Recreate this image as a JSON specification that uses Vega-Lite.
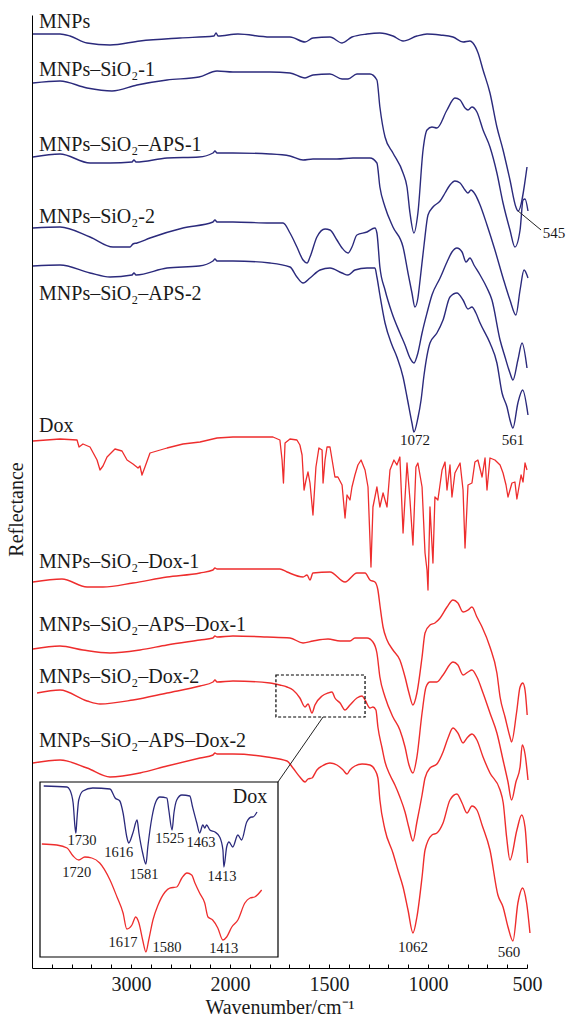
{
"$schema": "https://vega.github.io/schema/vega-lite/v6.json",
"width": 495, "height": 953,
"autosize": "none",
"padding": {"left": 32, "top": 15, "right": 39, "bottom": 51},
"background": "white",
"config": {"view": {"stroke": null}, "font": "Liberation Serif", "text": {"font": "Liberation Serif", "color": "#1a1a1a"}},
"datasets": {
"curves": [
{"s":"MNPs","w":3990,"r":934},{"s":"MNPs","w":3717,"r":934},{"s":"MNPs","w":3616,"r":932},{"s":"MNPs","w":3444,"r":925},{"s":"MNPs","w":3212,"r":923},{"s":"MNPs","w":2909,"r":927},{"s":"MNPs","w":2505,"r":930},{"s":"MNPs","w":2162,"r":932},{"s":"MNPs","w":2141,"r":935},{"s":"MNPs","w":2121,"r":932},{"s":"MNPs","w":1960,"r":934},{"s":"MNPs","w":1798,"r":931},{"s":"MNPs","w":1697,"r":931},{"s":"MNPs","w":1621,"r":926},{"s":"MNPs","w":1581,"r":930},{"s":"MNPs","w":1495,"r":931},{"s":"MNPs","w":1434,"r":925},{"s":"MNPs","w":1384,"r":931},{"s":"MNPs","w":1308,"r":934},{"s":"MNPs","w":1243,"r":935},{"s":"MNPs","w":1177,"r":932},{"s":"MNPs","w":1126,"r":927},{"s":"MNPs","w":1056,"r":932},{"s":"MNPs","w":1005,"r":934},{"s":"MNPs","w":939,"r":933},{"s":"MNPs","w":874,"r":931},{"s":"MNPs","w":823,"r":926},{"s":"MNPs","w":788,"r":927},{"s":"MNPs","w":773,"r":925},{"s":"MNPs","w":747,"r":915},{"s":"MNPs","w":722,"r":898},{"s":"MNPs","w":687,"r":875},{"s":"MNPs","w":652,"r":841},{"s":"MNPs","w":621,"r":818},{"s":"MNPs","w":586,"r":788},{"s":"MNPs","w":556,"r":761},{"s":"MNPs","w":545,"r":757},{"s":"MNPs","w":500,"r":801},
{"s":"S1","w":3990,"r":885},{"s":"S1","w":3717,"r":887},{"s":"S1","w":3444,"r":880},{"s":"S1","w":3192,"r":877},{"s":"S1","w":2939,"r":883},{"s":"S1","w":2636,"r":888},{"s":"S1","w":2313,"r":891},{"s":"S1","w":2131,"r":897},{"s":"S1","w":1985,"r":896},{"s":"S1","w":1798,"r":896},{"s":"S1","w":1697,"r":895},{"s":"S1","w":1621,"r":890},{"s":"S1","w":1581,"r":893},{"s":"S1","w":1495,"r":894},{"s":"S1","w":1434,"r":889},{"s":"S1","w":1404,"r":889},{"s":"S1","w":1359,"r":894},{"s":"S1","w":1293,"r":894},{"s":"S1","w":1258,"r":888},{"s":"S1","w":1243,"r":861},{"s":"S1","w":1217,"r":831},{"s":"S1","w":1177,"r":815},{"s":"S1","w":1126,"r":795},{"s":"S1","w":1106,"r":781},{"s":"S1","w":1091,"r":755},{"s":"S1","w":1071,"r":735},{"s":"S1","w":1051,"r":755},{"s":"S1","w":1025,"r":818},{"s":"S1","w":1005,"r":838},{"s":"S1","w":980,"r":841},{"s":"S1","w":955,"r":840},{"s":"S1","w":904,"r":858},{"s":"S1","w":864,"r":870},{"s":"S1","w":838,"r":868},{"s":"S1","w":813,"r":860},{"s":"S1","w":798,"r":858},{"s":"S1","w":778,"r":861},{"s":"S1","w":753,"r":856},{"s":"S1","w":722,"r":838},{"s":"S1","w":687,"r":821},{"s":"S1","w":652,"r":795},{"s":"S1","w":621,"r":765},{"s":"S1","w":586,"r":738},{"s":"S1","w":561,"r":721},{"s":"S1","w":535,"r":738},{"s":"S1","w":520,"r":768},{"s":"S1","w":510,"r":769},{"s":"S1","w":495,"r":757},
{"s":"SA1","w":3990,"r":811},{"s":"SA1","w":3717,"r":814},{"s":"SA1","w":3414,"r":805},{"s":"SA1","w":3212,"r":805},{"s":"SA1","w":2990,"r":806},{"s":"SA1","w":2970,"r":808},{"s":"SA1","w":2949,"r":806},{"s":"SA1","w":2636,"r":810},{"s":"SA1","w":2313,"r":811},{"s":"SA1","w":2172,"r":815},{"s":"SA1","w":2152,"r":817},{"s":"SA1","w":2131,"r":815},{"s":"SA1","w":1985,"r":815},{"s":"SA1","w":1798,"r":814},{"s":"SA1","w":1697,"r":812},{"s":"SA1","w":1631,"r":808},{"s":"SA1","w":1581,"r":809},{"s":"SA1","w":1460,"r":809},{"s":"SA1","w":1379,"r":810},{"s":"SA1","w":1293,"r":810},{"s":"SA1","w":1258,"r":805},{"s":"SA1","w":1243,"r":781},{"s":"SA1","w":1217,"r":761},{"s":"SA1","w":1177,"r":741},{"s":"SA1","w":1126,"r":721},{"s":"SA1","w":1101,"r":695},{"s":"SA1","w":1081,"r":675},{"s":"SA1","w":1066,"r":661},{"s":"SA1","w":1051,"r":670},{"s":"SA1","w":1040,"r":688},{"s":"SA1","w":1020,"r":723},{"s":"SA1","w":1000,"r":753},{"s":"SA1","w":975,"r":761},{"s":"SA1","w":939,"r":767},{"s":"SA1","w":914,"r":775},{"s":"SA1","w":889,"r":783},{"s":"SA1","w":864,"r":787},{"s":"SA1","w":838,"r":785},{"s":"SA1","w":813,"r":778},{"s":"SA1","w":798,"r":775},{"s":"SA1","w":783,"r":778},{"s":"SA1","w":763,"r":774},{"s":"SA1","w":737,"r":763},{"s":"SA1","w":702,"r":743},{"s":"SA1","w":662,"r":718},{"s":"SA1","w":621,"r":690},{"s":"SA1","w":586,"r":668},{"s":"SA1","w":556,"r":653},{"s":"SA1","w":535,"r":678},{"s":"SA1","w":515,"r":698},{"s":"SA1","w":495,"r":690},
{"s":"S2","w":3990,"r":740},{"s":"S2","w":3717,"r":741},{"s":"S2","w":3414,"r":731},{"s":"S2","w":3182,"r":721},{"s":"S2","w":3010,"r":721},{"s":"S2","w":2980,"r":724},{"s":"S2","w":2939,"r":725},{"s":"S2","w":2808,"r":730},{"s":"S2","w":2475,"r":740},{"s":"S2","w":2172,"r":746},{"s":"S2","w":2152,"r":748},{"s":"S2","w":2131,"r":746},{"s":"S2","w":1985,"r":746},{"s":"S2","w":1798,"r":745},{"s":"S2","w":1732,"r":745},{"s":"S2","w":1697,"r":735},{"s":"S2","w":1662,"r":721},{"s":"S2","w":1631,"r":708},{"s":"S2","w":1611,"r":705},{"s":"S2","w":1596,"r":711},{"s":"S2","w":1561,"r":731},{"s":"S2","w":1520,"r":739},{"s":"S2","w":1495,"r":738},{"s":"S2","w":1460,"r":728},{"s":"S2","w":1434,"r":720},{"s":"S2","w":1404,"r":715},{"s":"S2","w":1384,"r":721},{"s":"S2","w":1359,"r":733},{"s":"S2","w":1308,"r":736},{"s":"S2","w":1268,"r":740},{"s":"S2","w":1258,"r":735},{"s":"S2","w":1243,"r":701},{"s":"S2","w":1217,"r":678},{"s":"S2","w":1182,"r":655},{"s":"S2","w":1142,"r":635},{"s":"S2","w":1116,"r":623},{"s":"S2","w":1091,"r":610},{"s":"S2","w":1071,"r":605},{"s":"S2","w":1051,"r":615},{"s":"S2","w":1030,"r":635},{"s":"S2","w":1005,"r":655},{"s":"S2","w":980,"r":673},{"s":"S2","w":939,"r":690},{"s":"S2","w":904,"r":706},{"s":"S2","w":879,"r":716},{"s":"S2","w":854,"r":720},{"s":"S2","w":828,"r":716},{"s":"S2","w":808,"r":706},{"s":"S2","w":788,"r":710},{"s":"S2","w":768,"r":703},{"s":"S2","w":737,"r":693},{"s":"S2","w":702,"r":680},{"s":"S2","w":677,"r":668},{"s":"S2","w":636,"r":628},{"s":"S2","w":611,"r":611},{"s":"S2","w":586,"r":595},{"s":"S2","w":571,"r":588},{"s":"S2","w":546,"r":608},{"s":"S2","w":525,"r":625},{"s":"S2","w":500,"r":600},
{"s":"SA2","w":3990,"r":702},{"s":"SA2","w":3717,"r":703},{"s":"SA2","w":3414,"r":695},{"s":"SA2","w":3212,"r":691},{"s":"SA2","w":2990,"r":693},{"s":"SA2","w":2970,"r":695},{"s":"SA2","w":2949,"r":693},{"s":"SA2","w":2636,"r":700},{"s":"SA2","w":2313,"r":702},{"s":"SA2","w":2172,"r":707},{"s":"SA2","w":2152,"r":709},{"s":"SA2","w":2131,"r":707},{"s":"SA2","w":1985,"r":707},{"s":"SA2","w":1798,"r":705},{"s":"SA2","w":1697,"r":701},{"s":"SA2","w":1662,"r":691},{"s":"SA2","w":1631,"r":685},{"s":"SA2","w":1596,"r":690},{"s":"SA2","w":1545,"r":698},{"s":"SA2","w":1495,"r":700},{"s":"SA2","w":1434,"r":695},{"s":"SA2","w":1404,"r":693},{"s":"SA2","w":1369,"r":698},{"s":"SA2","w":1308,"r":700},{"s":"SA2","w":1268,"r":700},{"s":"SA2","w":1258,"r":691},{"s":"SA2","w":1243,"r":673},{"s":"SA2","w":1217,"r":645},{"s":"SA2","w":1182,"r":623},{"s":"SA2","w":1157,"r":611},{"s":"SA2","w":1126,"r":591},{"s":"SA2","w":1106,"r":571},{"s":"SA2","w":1081,"r":545},{"s":"SA2","w":1071,"r":536},{"s":"SA2","w":1051,"r":550},{"s":"SA2","w":1035,"r":568},{"s":"SA2","w":1020,"r":593},{"s":"SA2","w":990,"r":625},{"s":"SA2","w":955,"r":635},{"s":"SA2","w":924,"r":648},{"s":"SA2","w":889,"r":671},{"s":"SA2","w":854,"r":675},{"s":"SA2","w":823,"r":668},{"s":"SA2","w":798,"r":659},{"s":"SA2","w":778,"r":661},{"s":"SA2","w":758,"r":655},{"s":"SA2","w":737,"r":645},{"s":"SA2","w":687,"r":625},{"s":"SA2","w":652,"r":605},{"s":"SA2","w":626,"r":575},{"s":"SA2","w":601,"r":561},{"s":"SA2","w":586,"r":548},{"s":"SA2","w":571,"r":540},{"s":"SA2","w":546,"r":565},{"s":"SA2","w":522,"r":578},{"s":"SA2","w":495,"r":553},
{"s":"SD1","w":3990,"r":386},{"s":"SD1","w":3697,"r":389},{"s":"SD1","w":3444,"r":381},{"s":"SD1","w":3283,"r":381},{"s":"SD1","w":2980,"r":385},{"s":"SD1","w":2636,"r":391},{"s":"SD1","w":2303,"r":395},{"s":"SD1","w":2172,"r":398},{"s":"SD1","w":2152,"r":400},{"s":"SD1","w":2131,"r":399},{"s":"SD1","w":1985,"r":399},{"s":"SD1","w":1748,"r":399},{"s":"SD1","w":1712,"r":396},{"s":"SD1","w":1631,"r":391},{"s":"SD1","w":1611,"r":393},{"s":"SD1","w":1596,"r":388},{"s":"SD1","w":1581,"r":395},{"s":"SD1","w":1495,"r":396},{"s":"SD1","w":1419,"r":386},{"s":"SD1","w":1359,"r":395},{"s":"SD1","w":1318,"r":395},{"s":"SD1","w":1293,"r":388},{"s":"SD1","w":1268,"r":386},{"s":"SD1","w":1253,"r":378},{"s":"SD1","w":1243,"r":363},{"s":"SD1","w":1227,"r":341},{"s":"SD1","w":1207,"r":328},{"s":"SD1","w":1177,"r":318},{"s":"SD1","w":1142,"r":308},{"s":"SD1","w":1116,"r":291},{"s":"SD1","w":1096,"r":275},{"s":"SD1","w":1076,"r":263},{"s":"SD1","w":1056,"r":275},{"s":"SD1","w":1030,"r":311},{"s":"SD1","w":1015,"r":335},{"s":"SD1","w":990,"r":343},{"s":"SD1","w":965,"r":345},{"s":"SD1","w":939,"r":350},{"s":"SD1","w":904,"r":361},{"s":"SD1","w":874,"r":368},{"s":"SD1","w":849,"r":365},{"s":"SD1","w":823,"r":356},{"s":"SD1","w":798,"r":358},{"s":"SD1","w":778,"r":361},{"s":"SD1","w":753,"r":351},{"s":"SD1","w":727,"r":341},{"s":"SD1","w":687,"r":321},{"s":"SD1","w":652,"r":295},{"s":"SD1","w":636,"r":271},{"s":"SD1","w":611,"r":251},{"s":"SD1","w":586,"r":231},{"s":"SD1","w":578,"r":226},{"s":"SD1","w":553,"r":255},{"s":"SD1","w":535,"r":281},{"s":"SD1","w":521,"r":285},{"s":"SD1","w":510,"r":278},{"s":"SD1","w":499,"r":253},
{"s":"SAD1","w":3990,"r":319},{"s":"SAD1","w":3717,"r":322},{"s":"SAD1","w":3485,"r":318},{"s":"SAD1","w":3212,"r":315},{"s":"SAD1","w":2909,"r":318},{"s":"SAD1","w":2636,"r":323},{"s":"SAD1","w":2303,"r":328},{"s":"SAD1","w":2172,"r":330},{"s":"SAD1","w":2152,"r":332},{"s":"SAD1","w":2131,"r":331},{"s":"SAD1","w":1985,"r":332},{"s":"SAD1","w":1813,"r":331},{"s":"SAD1","w":1697,"r":330},{"s":"SAD1","w":1631,"r":325},{"s":"SAD1","w":1581,"r":327},{"s":"SAD1","w":1505,"r":329},{"s":"SAD1","w":1444,"r":327},{"s":"SAD1","w":1394,"r":327},{"s":"SAD1","w":1369,"r":330},{"s":"SAD1","w":1308,"r":330},{"s":"SAD1","w":1278,"r":326},{"s":"SAD1","w":1258,"r":315},{"s":"SAD1","w":1243,"r":291},{"s":"SAD1","w":1217,"r":271},{"s":"SAD1","w":1177,"r":251},{"s":"SAD1","w":1142,"r":238},{"s":"SAD1","w":1116,"r":221},{"s":"SAD1","w":1096,"r":203},{"s":"SAD1","w":1076,"r":195},{"s":"SAD1","w":1056,"r":211},{"s":"SAD1","w":1030,"r":255},{"s":"SAD1","w":1010,"r":281},{"s":"SAD1","w":990,"r":286},{"s":"SAD1","w":955,"r":286},{"s":"SAD1","w":924,"r":293},{"s":"SAD1","w":874,"r":306},{"s":"SAD1","w":849,"r":303},{"s":"SAD1","w":823,"r":293},{"s":"SAD1","w":798,"r":296},{"s":"SAD1","w":778,"r":298},{"s":"SAD1","w":753,"r":291},{"s":"SAD1","w":722,"r":275},{"s":"SAD1","w":687,"r":255},{"s":"SAD1","w":652,"r":235},{"s":"SAD1","w":621,"r":208},{"s":"SAD1","w":596,"r":186},{"s":"SAD1","w":578,"r":168},{"s":"SAD1","w":556,"r":186},{"s":"SAD1","w":535,"r":201},{"s":"SAD1","w":524,"r":223},{"s":"SAD1","w":510,"r":214},{"s":"SAD1","w":495,"r":188},
{"s":"SD2","w":3949,"r":275},{"s":"SD2","w":3717,"r":278},{"s":"SD2","w":3444,"r":267},{"s":"SD2","w":3313,"r":264},{"s":"SD2","w":2980,"r":268},{"s":"SD2","w":2636,"r":275},{"s":"SD2","w":2303,"r":282},{"s":"SD2","w":2172,"r":286},{"s":"SD2","w":2152,"r":288},{"s":"SD2","w":2131,"r":286},{"s":"SD2","w":1985,"r":287},{"s":"SD2","w":1798,"r":285},{"s":"SD2","w":1748,"r":283},{"s":"SD2","w":1712,"r":281},{"s":"SD2","w":1682,"r":278},{"s":"SD2","w":1647,"r":270},{"s":"SD2","w":1621,"r":261},{"s":"SD2","w":1606,"r":264},{"s":"SD2","w":1586,"r":255},{"s":"SD2","w":1571,"r":263},{"s":"SD2","w":1535,"r":272},{"s":"SD2","w":1505,"r":275},{"s":"SD2","w":1485,"r":276},{"s":"SD2","w":1470,"r":270},{"s":"SD2","w":1444,"r":265},{"s":"SD2","w":1419,"r":258},{"s":"SD2","w":1394,"r":263},{"s":"SD2","w":1359,"r":270},{"s":"SD2","w":1333,"r":272},{"s":"SD2","w":1318,"r":268},{"s":"SD2","w":1293,"r":260},{"s":"SD2","w":1278,"r":261},{"s":"SD2","w":1263,"r":258},{"s":"SD2","w":1253,"r":241},{"s":"SD2","w":1232,"r":220},{"s":"SD2","w":1217,"r":206},{"s":"SD2","w":1192,"r":193},{"s":"SD2","w":1167,"r":183},{"s":"SD2","w":1142,"r":171},{"s":"SD2","w":1116,"r":156},{"s":"SD2","w":1096,"r":140},{"s":"SD2","w":1076,"r":127},{"s":"SD2","w":1056,"r":146},{"s":"SD2","w":1030,"r":173},{"s":"SD2","w":1015,"r":190},{"s":"SD2","w":990,"r":200},{"s":"SD2","w":955,"r":204},{"s":"SD2","w":924,"r":216},{"s":"SD2","w":899,"r":230},{"s":"SD2","w":874,"r":240},{"s":"SD2","w":849,"r":235},{"s":"SD2","w":823,"r":225},{"s":"SD2","w":803,"r":230},{"s":"SD2","w":778,"r":234},{"s":"SD2","w":753,"r":228},{"s":"SD2","w":722,"r":211},{"s":"SD2","w":687,"r":195},{"s":"SD2","w":636,"r":178},{"s":"SD2","w":620,"r":165},{"s":"SD2","w":603,"r":131},{"s":"SD2","w":586,"r":108},{"s":"SD2","w":551,"r":138},{"s":"SD2","w":527,"r":153},{"s":"SD2","w":510,"r":141},{"s":"SD2","w":497,"r":105},
{"s":"SAD2","w":3990,"r":205},{"s":"SAD2","w":3717,"r":208},{"s":"SAD2","w":3444,"r":200},{"s":"SAD2","w":3212,"r":191},{"s":"SAD2","w":2909,"r":195},{"s":"SAD2","w":2636,"r":202},{"s":"SAD2","w":2303,"r":210},{"s":"SAD2","w":2172,"r":213},{"s":"SAD2","w":2152,"r":215},{"s":"SAD2","w":2131,"r":214},{"s":"SAD2","w":1985,"r":214},{"s":"SAD2","w":1813,"r":211},{"s":"SAD2","w":1712,"r":207},{"s":"SAD2","w":1682,"r":200},{"s":"SAD2","w":1647,"r":191},{"s":"SAD2","w":1621,"r":186},{"s":"SAD2","w":1606,"r":189},{"s":"SAD2","w":1586,"r":190},{"s":"SAD2","w":1561,"r":198},{"s":"SAD2","w":1535,"r":202},{"s":"SAD2","w":1495,"r":205},{"s":"SAD2","w":1460,"r":203},{"s":"SAD2","w":1429,"r":198},{"s":"SAD2","w":1409,"r":194},{"s":"SAD2","w":1394,"r":198},{"s":"SAD2","w":1369,"r":202},{"s":"SAD2","w":1333,"r":204},{"s":"SAD2","w":1293,"r":203},{"s":"SAD2","w":1268,"r":198},{"s":"SAD2","w":1253,"r":190},{"s":"SAD2","w":1243,"r":168},{"s":"SAD2","w":1217,"r":138},{"s":"SAD2","w":1177,"r":115},{"s":"SAD2","w":1152,"r":98},{"s":"SAD2","w":1126,"r":81},{"s":"SAD2","w":1101,"r":58},{"s":"SAD2","w":1076,"r":35},{"s":"SAD2","w":1056,"r":51},{"s":"SAD2","w":1030,"r":91},{"s":"SAD2","w":1015,"r":118},{"s":"SAD2","w":980,"r":133},{"s":"SAD2","w":955,"r":135},{"s":"SAD2","w":924,"r":145},{"s":"SAD2","w":889,"r":168},{"s":"SAD2","w":854,"r":174},{"s":"SAD2","w":828,"r":165},{"s":"SAD2","w":803,"r":155},{"s":"SAD2","w":778,"r":162},{"s":"SAD2","w":753,"r":158},{"s":"SAD2","w":727,"r":143},{"s":"SAD2","w":687,"r":118},{"s":"SAD2","w":647,"r":73},{"s":"SAD2","w":621,"r":61},{"s":"SAD2","w":596,"r":41},{"s":"SAD2","w":571,"r":27},{"s":"SAD2","w":546,"r":65},{"s":"SAD2","w":522,"r":80},{"s":"SAD2","w":502,"r":65},{"s":"SAD2","w":485,"r":35}
],
"dox": [
{"s":"Dox","w":3990,"r":527},{"s":"Dox","w":3717,"r":529},{"s":"Dox","w":3545,"r":528},{"s":"Dox","w":3525,"r":521},{"s":"Dox","w":3485,"r":524},{"s":"Dox","w":3414,"r":521},{"s":"Dox","w":3343,"r":508},{"s":"Dox","w":3313,"r":498},{"s":"Dox","w":3283,"r":502},{"s":"Dox","w":3242,"r":511},{"s":"Dox","w":3162,"r":519},{"s":"Dox","w":3091,"r":517},{"s":"Dox","w":3040,"r":508},{"s":"Dox","w":2980,"r":504},{"s":"Dox","w":2929,"r":500},{"s":"Dox","w":2909,"r":502},{"s":"Dox","w":2889,"r":493},{"s":"Dox","w":2859,"r":501},{"s":"Dox","w":2808,"r":515},{"s":"Dox","w":2636,"r":520},{"s":"Dox","w":2475,"r":524},{"s":"Dox","w":2303,"r":526},{"s":"Dox","w":2131,"r":530},{"s":"Dox","w":1985,"r":531},{"s":"Dox","w":1783,"r":531},{"s":"Dox","w":1748,"r":528},{"s":"Dox","w":1737,"r":508},{"s":"Dox","w":1730,"r":485},{"s":"Dox","w":1722,"r":525},{"s":"Dox","w":1697,"r":529},{"s":"Dox","w":1662,"r":528},{"s":"Dox","w":1647,"r":523},{"s":"Dox","w":1636,"r":513},{"s":"Dox","w":1626,"r":478},{"s":"Dox","w":1616,"r":488},{"s":"Dox","w":1606,"r":496},{"s":"Dox","w":1596,"r":485},{"s":"Dox","w":1581,"r":453},{"s":"Dox","w":1566,"r":501},{"s":"Dox","w":1551,"r":520},{"s":"Dox","w":1535,"r":518},{"s":"Dox","w":1530,"r":485},{"s":"Dox","w":1520,"r":508},{"s":"Dox","w":1510,"r":521},{"s":"Dox","w":1495,"r":521},{"s":"Dox","w":1470,"r":491},{"s":"Dox","w":1455,"r":491},{"s":"Dox","w":1434,"r":483},{"s":"Dox","w":1419,"r":450},{"s":"Dox","w":1409,"r":473},{"s":"Dox","w":1394,"r":468},{"s":"Dox","w":1384,"r":481},{"s":"Dox","w":1369,"r":493},{"s":"Dox","w":1354,"r":503},{"s":"Dox","w":1338,"r":508},{"s":"Dox","w":1318,"r":498},{"s":"Dox","w":1303,"r":481},{"s":"Dox","w":1288,"r":401},{"s":"Dox","w":1278,"r":461},{"s":"Dox","w":1258,"r":481},{"s":"Dox","w":1243,"r":461},{"s":"Dox","w":1227,"r":475},{"s":"Dox","w":1207,"r":461},{"s":"Dox","w":1192,"r":498},{"s":"Dox","w":1172,"r":508},{"s":"Dox","w":1157,"r":503},{"s":"Dox","w":1142,"r":511},{"s":"Dox","w":1126,"r":435},{"s":"Dox","w":1106,"r":505},{"s":"Dox","w":1091,"r":468},{"s":"Dox","w":1076,"r":423},{"s":"Dox","w":1061,"r":501},{"s":"Dox","w":1051,"r":505},{"s":"Dox","w":1030,"r":481},{"s":"Dox","w":1015,"r":415},{"s":"Dox","w":1005,"r":398},{"s":"Dox","w":1000,"r":378},{"s":"Dox","w":990,"r":461},{"s":"Dox","w":975,"r":405},{"s":"Dox","w":965,"r":471},{"s":"Dox","w":950,"r":468},{"s":"Dox","w":929,"r":498},{"s":"Dox","w":914,"r":506},{"s":"Dox","w":904,"r":478},{"s":"Dox","w":889,"r":503},{"s":"Dox","w":879,"r":471},{"s":"Dox","w":864,"r":495},{"s":"Dox","w":838,"r":505},{"s":"Dox","w":823,"r":478},{"s":"Dox","w":813,"r":420},{"s":"Dox","w":798,"r":483},{"s":"Dox","w":778,"r":485},{"s":"Dox","w":763,"r":506},{"s":"Dox","w":748,"r":508},{"s":"Dox","w":727,"r":491},{"s":"Dox","w":712,"r":510},{"s":"Dox","w":702,"r":478},{"s":"Dox","w":687,"r":510},{"s":"Dox","w":662,"r":508},{"s":"Dox","w":636,"r":503},{"s":"Dox","w":621,"r":495},{"s":"Dox","w":606,"r":483},{"s":"Dox","w":596,"r":471},{"s":"Dox","w":576,"r":485},{"s":"Dox","w":561,"r":486},{"s":"Dox","w":551,"r":469},{"s":"Dox","w":530,"r":493},{"s":"Dox","w":520,"r":486},{"s":"Dox","w":510,"r":505},{"s":"Dox","w":500,"r":498}
],
"names": [
{"t":"MNPs","w":3929,"r":940},{"t":"MNPs–SiO₂-1","w":3929,"r":892},{"t":"MNPs–SiO₂–APS-1","w":3929,"r":817},{"t":"MNPs–SiO₂-2","w":3929,"r":745},{"t":"MNPs–SiO₂–APS-2","w":3929,"r":668},{"t":"Dox","w":3929,"r":536},{"t":"MNPs–SiO₂–Dox-1","w":3929,"r":400},{"t":"MNPs–SiO₂–APS–Dox-1","w":3929,"r":337},{"t":"MNPs–SiO₂–Dox-2","w":3929,"r":285},{"t":"MNPs–SiO₂–APS–Dox-2","w":3929,"r":221}
],
"peaks": [
{"t":"1072","w":1066,"r":528},{"t":"561","w":571,"r":528},{"t":"545","w":364,"r":735},{"t":"1062","w":1076,"r":21},{"t":"560","w":591,"r":16}
],
"leaders": [
{"w":545,"r":757,"w2":429,"r2":738},{"w":1758,"r":186,"w2":1530,"r2":251}
],
"zoombox": [{"w":1768,"w2":1318,"r":293,"r2":251}],
"insetbox": [{"w":1807,"w2":1297,"r":0,"r2":175}],
"inset": [
{"s":"iDox","w":1799,"r":171},{"s":"iDox","w":1749,"r":170},{"s":"iDox","w":1743,"r":167},{"s":"iDox","w":1736,"r":154},{"s":"iDox","w":1732,"r":130},{"s":"iDox","w":1730,"r":124},{"s":"iDox","w":1728,"r":137},{"s":"iDox","w":1724,"r":157},{"s":"iDox","w":1715,"r":166},{"s":"iDox","w":1694,"r":169},{"s":"iDox","w":1657,"r":168},{"s":"iDox","w":1646,"r":159},{"s":"iDox","w":1636,"r":156},{"s":"iDox","w":1629,"r":144},{"s":"iDox","w":1621,"r":120},{"s":"iDox","w":1617,"r":114},{"s":"iDox","w":1608,"r":124},{"s":"iDox","w":1599,"r":137},{"s":"iDox","w":1595,"r":124},{"s":"iDox","w":1587,"r":104},{"s":"iDox","w":1580,"r":93},{"s":"iDox","w":1576,"r":110},{"s":"iDox","w":1567,"r":140},{"s":"iDox","w":1559,"r":155},{"s":"iDox","w":1550,"r":160},{"s":"iDox","w":1535,"r":159},{"s":"iDox","w":1531,"r":147},{"s":"iDox","w":1524,"r":127},{"s":"iDox","w":1520,"r":144},{"s":"iDox","w":1514,"r":157},{"s":"iDox","w":1503,"r":162},{"s":"iDox","w":1486,"r":161},{"s":"iDox","w":1480,"r":150},{"s":"iDox","w":1471,"r":134},{"s":"iDox","w":1465,"r":124},{"s":"iDox","w":1458,"r":132},{"s":"iDox","w":1454,"r":129},{"s":"iDox","w":1450,"r":132},{"s":"iDox","w":1443,"r":127},{"s":"iDox","w":1432,"r":125},{"s":"iDox","w":1422,"r":120},{"s":"iDox","w":1415,"r":107},{"s":"iDox","w":1413,"r":90},{"s":"iDox","w":1407,"r":110},{"s":"iDox","w":1402,"r":115},{"s":"iDox","w":1394,"r":110},{"s":"iDox","w":1383,"r":122},{"s":"iDox","w":1375,"r":117},{"s":"iDox","w":1364,"r":135},{"s":"iDox","w":1353,"r":140},{"s":"iDox","w":1351,"r":140},{"s":"iDox","w":1342,"r":145},
{"s":"iSD2","w":1803,"r":113},{"s":"iSD2","w":1771,"r":112},{"s":"iSD2","w":1749,"r":109},{"s":"iSD2","w":1736,"r":101},{"s":"iSD2","w":1724,"r":97},{"s":"iSD2","w":1711,"r":100},{"s":"iSD2","w":1696,"r":99},{"s":"iSD2","w":1679,"r":94},{"s":"iSD2","w":1657,"r":77},{"s":"iSD2","w":1642,"r":60},{"s":"iSD2","w":1629,"r":44},{"s":"iSD2","w":1621,"r":28},{"s":"iSD2","w":1610,"r":32},{"s":"iSD2","w":1602,"r":40},{"s":"iSD2","w":1595,"r":34},{"s":"iSD2","w":1587,"r":17},{"s":"iSD2","w":1580,"r":5},{"s":"iSD2","w":1574,"r":17},{"s":"iSD2","w":1565,"r":37},{"s":"iSD2","w":1554,"r":52},{"s":"iSD2","w":1539,"r":65},{"s":"iSD2","w":1529,"r":69},{"s":"iSD2","w":1514,"r":70},{"s":"iSD2","w":1503,"r":79},{"s":"iSD2","w":1492,"r":84},{"s":"iSD2","w":1482,"r":82},{"s":"iSD2","w":1475,"r":74},{"s":"iSD2","w":1465,"r":64},{"s":"iSD2","w":1454,"r":54},{"s":"iSD2","w":1447,"r":40},{"s":"iSD2","w":1437,"r":37},{"s":"iSD2","w":1426,"r":29},{"s":"iSD2","w":1415,"r":17},{"s":"iSD2","w":1407,"r":20},{"s":"iSD2","w":1396,"r":30},{"s":"iSD2","w":1383,"r":37},{"s":"iSD2","w":1368,"r":54},{"s":"iSD2","w":1357,"r":59},{"s":"iSD2","w":1347,"r":60},{"s":"iSD2","w":1332,"r":67}
],
"insetlabels": [
{"t":"1730","w":1717,"r":116},{"t":"1616","w":1638,"r":104},{"t":"1525","w":1529,"r":118},{"t":"1463","w":1462,"r":114},{"t":"1581","w":1584,"r":82},{"t":"1413","w":1417,"r":80},{"t":"1720","w":1728,"r":84},{"t":"1617","w":1629,"r":14},{"t":"1580","w":1535,"r":9},{"t":"1413","w":1413,"r":8}
],
"insettitle": [{"t":"Dox","w":1357,"r":160}]
},
"layer": [
{
"encoding": {
"x": {"field": "w", "type": "quantitative",
 "scale": {"domain": [4000, 2000, 500], "range": [0, 198, 495], "nice": false, "zero": false},
 "axis": {"values": [3800,3600,3400,3200,3000,2800,2600,2400,2200,2000,1900,1800,1700,1600,1500,1400,1300,1200,1100,1000,900,800,700,600,500],
  "format": "d",
  "labelExpr": "indexof([3000,2000,1500,1000,500], datum.value) >= 0 ? datum.label : ''",
  "tickSize": -4,
  "encode": {"ticks": {"update": {"y2": {"signal": "indexof([3000,2000,1500,1000,500], datum.value) >= 0 ? -7 : -4"}}}},
  "grid": false, "domainColor": "#000", "tickColor": "#000", "domainWidth": 1, "tickWidth": 1,
  "labelFont": "Liberation Serif", "labelFontSize": 20, "labelColor": "#1a1a1a", "labelPadding": 10, "labelOverlap": false, "labelFlush": false,
  "title": "Wavenumber/cm⁻¹", "titleFont": "Liberation Serif", "titleFontSize": 20, "titleFontWeight": "normal", "titleColor": "#1a1a1a", "titlePadding": 3}},
"y": {"field": "r", "type": "quantitative",
 "scale": {"domain": [0, 953], "nice": false, "zero": false},
 "axis": {"ticks": false, "labels": false, "grid": false, "domainColor": "#000", "domainWidth": 1,
  "title": "Reflectance", "titleFont": "Liberation Serif", "titleFontSize": 20, "titleFontWeight": "normal", "titleColor": "#1a1a1a", "titlePadding": 6, "titleY": 494}}
},
"layer": [
{"data": {"name": "curves"}, "mark": {"type": "line", "interpolate": "monotone", "strokeWidth": 1.4, "strokeJoin": "round"},
 "encoding": {"color": {"field": "s", "type": "nominal", "legend": null,
   "scale": {"domain": ["MNPs","S1","SA1","S2","SA2","Dox","SD1","SAD1","SD2","SAD2","iDox","iSD2"],
   "range": ["#2b2a7c","#2b2a7c","#2b2a7c","#2b2a7c","#2b2a7c","#ee2d2d","#ee2d2d","#ee2d2d","#ee2d2d","#ee2d2d","#2b2a7c","#ee2d2d"]}},
   "detail": {"field": "s"}}},
{"data": {"name": "dox"}, "mark": {"type": "line", "strokeWidth": 1.3, "strokeJoin": "round"},
 "encoding": {"color": {"field": "s", "type": "nominal", "legend": null}}},
{"data": {"name": "names"}, "mark": {"type": "text", "align": "left", "baseline": "alphabetic", "fontSize": 20},
 "encoding": {"text": {"field": "t"}}},
{"data": {"name": "peaks"}, "mark": {"type": "text", "align": "center", "baseline": "middle", "fontSize": 15},
 "encoding": {"text": {"field": "t"}}},
{"data": {"name": "leaders"}, "mark": {"type": "rule", "color": "#222", "strokeWidth": 1},
 "encoding": {"x2": {"field": "w2"}, "y2": {"field": "r2"}}},
{"data": {"name": "zoombox"}, "mark": {"type": "rect", "fill": null, "fillOpacity": 0, "stroke": "#000", "strokeWidth": 1.2, "strokeDash": [3, 2]},
 "encoding": {"x2": {"field": "w2"}, "y2": {"field": "r2"}}}
]
},
{
"encoding": {
"x": {"field": "w", "type": "quantitative", "scale": {"domain": [1807, 1297], "range": [8, 246], "nice": false, "zero": false}, "axis": null},
"y": {"field": "r", "type": "quantitative", "scale": {"domain": [0, 175], "range": [942, 767], "nice": false, "zero": false}, "axis": null}
},
"layer": [
{"data": {"name": "insetbox"}, "mark": {"type": "rect", "fill": "white", "stroke": "#000", "strokeWidth": 1.2},
 "encoding": {"x2": {"field": "w2"}, "y2": {"field": "r2"}}},
{"data": {"name": "inset"}, "mark": {"type": "line", "interpolate": "monotone", "strokeWidth": 1.3, "strokeJoin": "round"},
 "encoding": {"color": {"field": "s", "type": "nominal", "legend": null}, "detail": {"field": "s"}}},
{"data": {"name": "insetlabels"}, "mark": {"type": "text", "align": "center", "baseline": "middle", "fontSize": 14.5},
 "encoding": {"text": {"field": "t"}}},
{"data": {"name": "insettitle"}, "mark": {"type": "text", "align": "center", "baseline": "middle", "fontSize": 20},
 "encoding": {"text": {"field": "t"}}}
]
}
],
"resolve": {"scale": {"x": "independent", "y": "independent"}}
}
